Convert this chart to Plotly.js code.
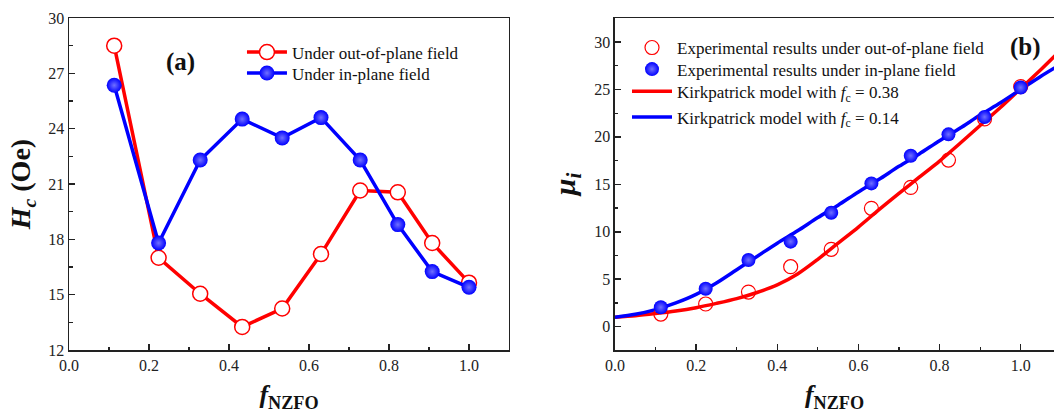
<!DOCTYPE html>
<html>
<head>
<meta charset="utf-8">
<script src="https://cdn.plot.ly/plotly-3.0.1.min.js"></script>
<style>
html,body{margin:0;padding:0;background:#fff;overflow:hidden;}
#chart{width:1054px;height:416px;}
</style>
</head>
<body>
<div id="chart"></div>
<script>
// ---- Panel (a): coercivity Hc ----
const fA = [0.113, 0.224, 0.328, 0.433, 0.533, 0.630, 0.728, 0.822, 0.908, 1.0];
const hcOut = [28.5, 17.0, 15.05, 13.25, 14.25, 17.2, 20.65, 20.55, 17.8, 15.65];
const hcIn  = [26.35, 17.8, 22.3, 24.52, 23.5, 24.6, 22.3, 18.8, 16.25, 15.4];

// ---- Panel (b): initial permeability ----
const fB = [0.113, 0.2235, 0.329, 0.433, 0.533, 0.632, 0.729, 0.822, 0.911, 1.0];
const muOut = [1.33, 2.39, 3.65, 6.32, 8.15, 12.47, 14.68, 17.56, 21.9, 25.3];
const muIn  = [2.04, 4.0, 7.02, 8.96, 12.01, 15.1, 18.02, 20.27, 22.1, 25.2];

// Kirkpatrick model curves
const fModel = [0, 0.05, 0.1, 0.15, 0.2, 0.25, 0.3, 0.35, 0.4, 0.45, 0.5, 0.55,
                0.6, 0.65, 0.7, 0.75, 0.8, 0.85, 0.9, 0.95, 1.0, 1.05, 1.1];
const muModel038 = [1.0, 1.15, 1.38, 1.65, 2.0, 2.45, 2.95, 3.6, 4.4, 5.55, 7.1, 8.8,
                    10.5, 12.3, 14.05, 15.75, 17.45, 19.3, 21.2, 23.1, 25.1, 27.1, 29.2];
const muModel014 = [1.0, 1.3, 1.8, 2.5, 3.4, 4.6, 6.0, 7.4, 8.8, 10.1, 11.5, 12.8,
                    14.2, 15.5, 16.9, 18.2, 19.6, 20.9, 22.3, 23.6, 25.0, 26.4, 27.7];

const legendA = ['Under out-of-plane field', 'Under in-plane field'];
const legendB = ['Experimental results under out-of-plane field',
                 'Experimental results under in-plane field',
                 'Kirkpatrick model with <i>f</i><sub>c</sub> = 0.38',
                 'Kirkpatrick model with <i>f</i><sub>c</sub> = 0.14'];

const RED = '#ff0000', BLUE = '#0000ff';
const FONT = 'Liberation Serif, Times New Roman, serif';
const ball = {type: 'radial', color: '#7070ff'};

const data = [
  {x: fA, y: hcOut, xaxis: 'x', yaxis: 'y', mode: 'lines+markers', name: legendA[0],
   line: {color: RED, width: 3.5},
   marker: {symbol: 'circle', size: 15, color: '#ffffff', line: {color: RED, width: 1.5}},
   legend: 'legend'},
  {x: fA, y: hcIn, xaxis: 'x', yaxis: 'y', mode: 'lines+markers', name: legendA[1],
   line: {color: BLUE, width: 3.5},
   marker: {symbol: 'circle', size: 15, color: BLUE, gradient: ball, line: {width: 0}},
   legend: 'legend2'},

  {x: fModel, y: muModel038, xaxis: 'x2', yaxis: 'y2', mode: 'lines', name: legendB[2],
   line: {color: RED, width: 3.5, shape: 'spline', smoothing: 0.8},
   legend: 'legend5'},
  {x: fModel, y: muModel014, xaxis: 'x2', yaxis: 'y2', mode: 'lines', name: legendB[3],
   line: {color: BLUE, width: 3.5, shape: 'spline', smoothing: 0.8},
   legend: 'legend6'},
  {x: fB, y: muOut, xaxis: 'x2', yaxis: 'y2', mode: 'markers', name: legendB[0],
   marker: {symbol: 'circle-open', size: 14, color: RED, line: {color: RED, width: 1.2}},
   legend: 'legend3'},
  {x: fB, y: muIn, xaxis: 'x2', yaxis: 'y2', mode: 'markers', name: legendB[1],
   marker: {symbol: 'circle', size: 14, color: BLUE, gradient: ball, line: {width: 0}},
   legend: 'legend4'}
];

const axisCommon = {
  showgrid: false, zeroline: false, showline: true, linecolor: '#222', linewidth: 1.5,
  ticks: 'inside', ticklen: 6, tickwidth: 1.5, tickcolor: '#222',
  tickfont: {family: FONT, size: 16, color: '#222'}
};

const xTitle = {text: '<b><i>f</i><sub>NZFO</sub></b>', font: {family: FONT, size: 26, color: '#111'}, standoff: 12};

function leg(x, y) {
  return {x: x, y: y, xanchor: 'left', yanchor: 'top', bgcolor: 'rgba(0,0,0,0)',
          font: {family: FONT, size: 17, color: '#111'}, itemwidth: 40};
}

const layout = {
  width: 1054, height: 416,
  margin: {l: 69, r: 0, t: 18, b: 66},
  paper_bgcolor: '#fff', plot_bgcolor: '#fff',
  font: {family: FONT, color: '#111'},
  xaxis: Object.assign({}, axisCommon, {
    domain: [0, 0.4467], range: [0, 1.1], dtick: 0.2, tick0: 0, tickformat: '.1f',
    mirror: true, title: xTitle,
    minor: {dtick: 0.1, ticks: 'inside', ticklen: 3.5, tickwidth: 1.2, tickcolor: '#222'}
  }),
  yaxis: Object.assign({}, axisCommon, {
    domain: [0, 1], range: [12, 30], dtick: 3, tick0: 12, mirror: true,
    title: {text: '<b><i>H</i><sub><i>c</i></sub> (Oe)</b>', font: {family: FONT, size: 28, color: '#111'}, standoff: 9},
    minor: {dtick: 1.5, ticks: 'inside', ticklen: 3.5, tickwidth: 1.2, tickcolor: '#222'}
  }),
  xaxis2: Object.assign({}, axisCommon, {
    domain: [0.5543, 1], range: [0, 1.0821], dtick: 0.2, tick0: 0, tickformat: '.1f',
    anchor: 'y2', mirror: true, title: xTitle,
    minor: {dtick: 0.1, ticks: 'inside', ticklen: 3.5, tickwidth: 1.2, tickcolor: '#222'}
  }),
  yaxis2: Object.assign({}, axisCommon, {
    domain: [0, 1], range: [-2.46, 32.53], dtick: 5, tick0: 0, anchor: 'x2', mirror: false,
    title: {text: '<b><i>μ</i><sub><i>i</i></sub></b>', font: {family: FONT, size: 30, color: '#111'}, standoff: 10},
    minor: {dtick: 2.5, ticks: 'inside', ticklen: 3.5, tickwidth: 1.2, tickcolor: '#222'}
  }),
  showlegend: true,
  legend:  leg(0.1756, 0.9503),
  legend2: leg(0.1756, 0.8870),
  legend3: leg(0.5665, 0.9640),
  legend4: leg(0.5665, 0.8990),
  legend5: leg(0.5665, 0.8320),
  legend6: leg(0.5665, 0.7545),
  annotations: [
    {text: '<b>(a)</b>', xref: 'paper', yref: 'paper', x: 0.1130, y: 0.8660,
     xanchor: 'center', yanchor: 'middle', showarrow: false, font: {family: FONT, size: 25, color: '#111'}},
    {text: '<b>(b)</b>', xref: 'paper', yref: 'paper', x: 0.9706, y: 0.9130,
     xanchor: 'center', yanchor: 'middle', showarrow: false, font: {family: FONT, size: 25, color: '#111'}}
  ]
};

Plotly.newPlot('chart', data, layout, {displayModeBar: false, staticPlot: true});
</script>
</body>
</html>
